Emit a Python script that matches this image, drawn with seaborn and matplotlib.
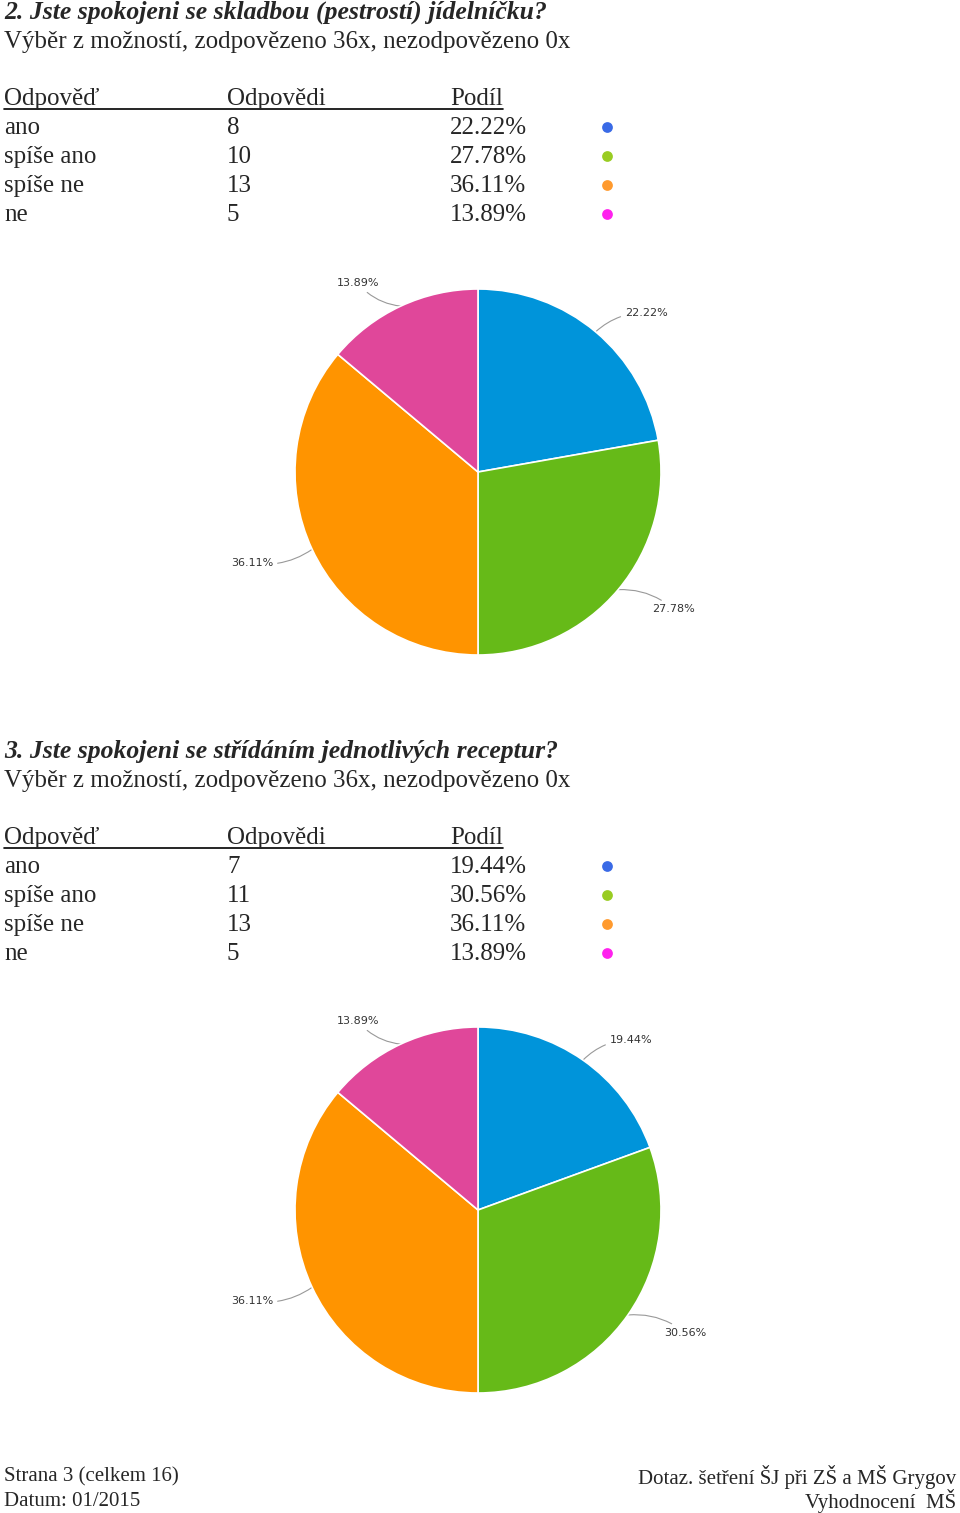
import numpy as np
import matplotlib
matplotlib.use("Agg")
import matplotlib.pyplot as plt
import seaborn as sns

# ---- data ----
answers = ["ano", "spíše ano", "spíše ne", "ne"]
q2_title = "2. Jste spokojeni se skladbou (pestrostí) jídelníčku?"
q2_counts = [8, 10, 13, 5]
q3_title = "3. Jste spokojeni se střídáním jednotlivých receptur?"
q3_counts = [7, 11, 13, 5]
subtitle = "Výběr z možností, zodpovězeno 36x, nezodpovězeno 0x"
headers = ["Odpověď", "Odpovědi", "Podíl"]
pie_colors = ["#0094DA", "#66BA18", "#FF9400", "#E0479A"]
dot_colors = ["#3A6AE6", "#99CC22", "#FF9A2E", "#FF22EE"]
footer_left = ["Strana 3 (celkem 16)", "Datum: 01/2015"]
footer_right = ["Dotaz. šetření ŠJ při ZŠ a MŠ Grygov", "Vyhodnocení  MŠ"]

sns.set_theme(style="white")
plt.rcParams['font.family'] = ['Liberation Serif', 'DejaVu Serif']

W, H = 960, 1513
fig = plt.figure(figsize=(W / 100, H / 100), dpi=100)
fig.patch.set_facecolor("white")
bg = fig.add_axes([0, 0, 1, 1])
bg.set_xlim(0, W)
bg.set_ylim(H, 0)
bg.axis("off")

FS = 18
BL = 7  # baseline offset from row centre


def block(y0, title, counts):
    bg.text(4, y0 + BL, title, fontsize=18.5, fontweight="bold", fontstyle="italic",
            va="baseline", ha="left")
    bg.text(4, y0 + 29 + BL, subtitle, fontsize=FS, va="baseline", ha="left")
    cols = [4, 227, 450]
    hy = y0 + 86
    for x, h in zip(cols, headers):
        bg.text(x, hy + BL, h, fontsize=FS, va="baseline", ha="left")
    bg.plot([4, 503], [hy + 11, hy + 11], color="black", lw=1.2)
    total = sum(counts)
    for i, (a, c) in enumerate(zip(answers, counts)):
        y = hy + 29 * (i + 1)
        bg.text(cols[0], y + BL, a, fontsize=FS, va="baseline", ha="left")
        bg.text(cols[1], y + BL, str(c), fontsize=FS, va="baseline", ha="left")
        bg.text(cols[2], y + BL, f"{100 * c / total:.2f}%", fontsize=FS, va="baseline", ha="left")
        bg.scatter([607], [y], s=60, color=dot_colors[i], zorder=3, linewidths=0)


def pie(cy, counts):
    cx, r = 478, 183
    ax = fig.add_axes([(cx - r) / W, (H - cy - r) / H, 2 * r / W, 2 * r / H])
    ax.pie(counts, colors=pie_colors, startangle=90, counterclock=False,
           radius=1, wedgeprops=dict(edgecolor="white", linewidth=1.2))
    ax.set_xlim(-1.0, 1.0)
    ax.set_ylim(-1.0, 1.0)
    ax.set_aspect("equal")
    ax.axis("off")
    total = sum(counts)
    start = 90.0
    for c in counts:
        ang = start - 360 * c / total / 2
        start -= 360 * c / total
        a = np.deg2rad(ang)
        ex, ey = cx + r * np.cos(a), cy - r * np.sin(a)
        lx, ly = cx + 1.2 * r * np.cos(a), cy - 1.15 * r * np.sin(a)
        right = np.cos(a) > 0
        tx = lx + (6 if right else -6)
        bg.annotate(f"{100 * c / total:.2f}%", xy=(ex, ey), xytext=(tx, ly + 2),
                    fontsize=8, color="#333333", family="DejaVu Sans",
                    ha="left" if right else "right", va="center",
                    arrowprops=dict(arrowstyle="-", color="#999999", lw=0.8,
                                    connectionstyle="arc3,rad=0.2",
                                    shrinkA=1, shrinkB=0))


block(12, q2_title, q2_counts)
pie(472, q2_counts)
block(751, q3_title, q3_counts)
pie(1210, q3_counts)

for i, t in enumerate(footer_left):
    bg.text(4, 1477 + 24 * i, t, fontsize=15, va="center", ha="left")
for i, t in enumerate(footer_right):
    bg.text(956, 1477 + 24 * i, t, fontsize=15, va="center", ha="right")

fig.savefig("out.png", dpi=100, facecolor="white")
